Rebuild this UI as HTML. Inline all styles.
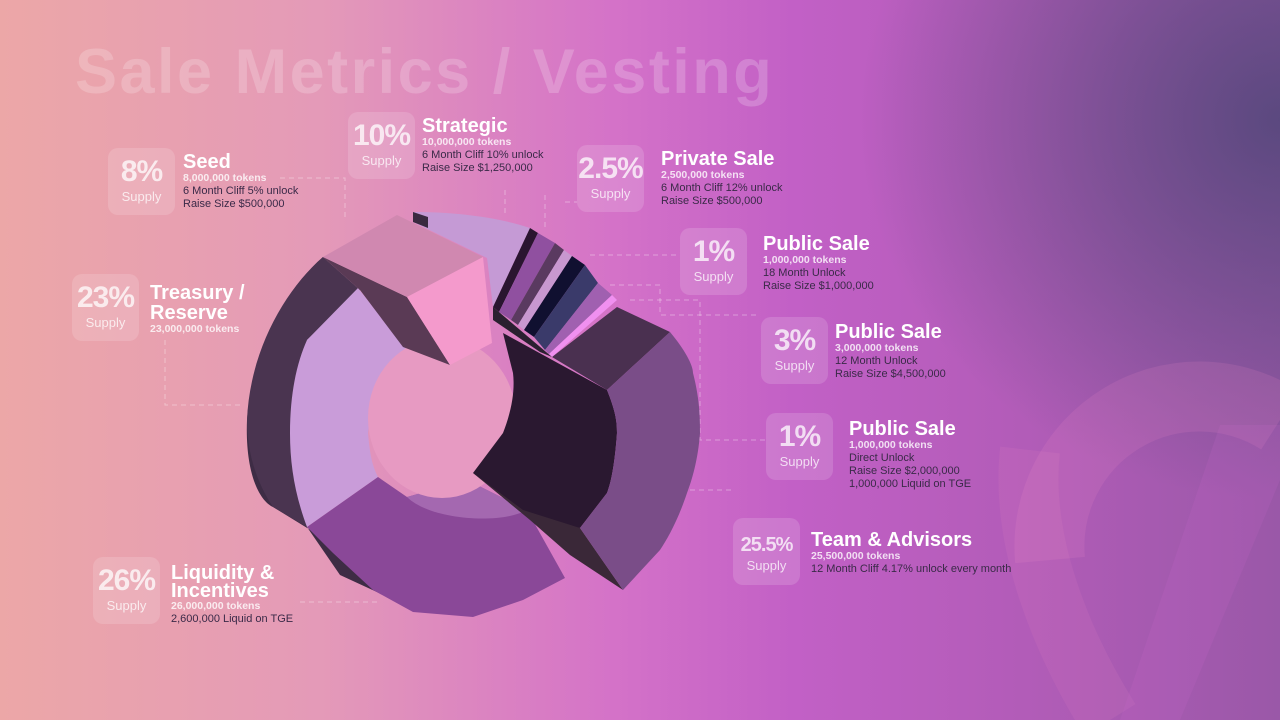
<!DOCTYPE html>
<html><head><meta charset="utf-8"><style>
html,body{margin:0;padding:0}
body{width:1280px;height:720px;position:relative;overflow:hidden;font-family:"Liberation Sans","DejaVu Sans",sans-serif;
background:radial-gradient(ellipse 420px 380px at 1280px 120px,rgba(80,70,120,0.85),rgba(80,70,120,0) 100%),linear-gradient(90deg,#eca7a7 0%,#e49ab8 25%,#d472c8 48%,#c260c6 62%,#b25cb8 80%,#9a58a8 100%);}
.title{position:absolute;left:75px;top:36px;font-size:63px;font-weight:bold;color:rgba(255,255,255,0.2);letter-spacing:2.5px}
.box{position:absolute;width:67px;height:67px;border-radius:10px;background:rgba(255,255,255,0.15);text-align:center;color:rgba(255,255,255,0.75)}
.box .p{font-size:30px;font-weight:bold;margin-top:9px;line-height:30px;letter-spacing:-1px}
.box .s{font-size:13px;margin-top:2px}
.lab{position:absolute;color:#3a2a48;font-size:11px;line-height:13px}
.lab .h{color:#fff;font-size:20px;font-weight:bold;line-height:20px}
.lab .t{color:rgba(255,255,255,0.8);font-weight:bold;font-size:10.5px}
</style></head><body>
<svg width="1280" height="720" style="position:absolute;left:0;top:0">
<path d="M1050,560 A150,150 0 0 1 1280,420" stroke="rgba(240,140,200,0.15)" stroke-width="70" fill="none"/>
<path d="M1030,450 C1020,540 1060,640 1110,720" stroke="rgba(240,140,200,0.12)" stroke-width="60" fill="none"/>
<path d="M1120,720 L1220,425 L1280,425 L1280,480 L1180,720Z" fill="rgba(210,110,210,0.15)"/>
<g stroke="rgba(255,255,255,0.35)" stroke-dasharray="5,4" fill="none" stroke-width="1">
<path d="M280,178 L345,178 L345,220"/><path d="M165,340 L165,405 L240,405"/><path d="M505,190 L505,215"/>
<path d="M545,195 L545,230 M565,202 L577,202"/><path d="M590,255 L680,255"/><path d="M610,285 L660,285 L660,315 L760,315"/>
<path d="M630,300 L700,300 L700,440 L766,440"/><path d="M690,490 L735,490"/><path d="M300,602 L380,602"/>
</g>
<path d="M323,257 C285,290 252,350 247,420 C245,470 258,500 273,507 L330,542 L393,595 L420,612 L340,575 L307,527 L290,433 L307,340Z" fill="#3e2c45"/>
<path d="M323,257 L360,290 L307,340 C295,370 290,400 290,433 L307,527 L273,507 C255,480 247,450 247,420 C250,350 285,290 323,257Z" fill="#4a3450"/>
<path d="M358,288 L407,350 C385,370 372,400 368,433 C370,455 372,465 378,477 L307,527 C295,495 290,465 290,433 C290,390 298,360 307,340Z" fill="#c99cd9"/>
<path d="M307,527 L378,477 L407,497 L467,480 L527,510 L565,578 L523,600 L473,617 L413,612 L373,590 L333,553Z" fill="#8a4898"/>
<path d="M407,497 C430,520 500,525 527,510 L467,480Z" fill="#a468b0"/>
<ellipse cx="442" cy="418" rx="74" ry="80" fill="#e79ac2"/>
<path d="M473,473 L580,528 L623,590 L570,555 L530,520Z" fill="#3a2838"/>
<path d="M503,333 L607,390 C615,410 617,420 617,433 C615,460 612,480 607,493 L580,528 L523,510 L473,473 L503,433 C512,410 515,390 513,373Z" fill="#2a1830"/>
<path d="M552,357 L617,307 L670,332 L607,390Z" fill="#4a3050"/>
<path d="M607,390 L670,332 C685,350 693,365 693,373 C700,400 700,420 700,433 C698,460 692,480 687,493 C678,520 668,538 660,550 L623,590 L580,528 L607,493 C612,480 615,460 617,433 C617,420 615,410 607,390Z" fill="#7a4d88"/>
<path d="M413,212 C460,212 500,218 530,228 L493,307 L487,258 L413,222Z" fill="#c59ad5"/>
<path d="M413,212 L428,217 L428,228 L413,222Z" fill="#3a2a40"/>
<path d="M530,228 L538,233 L499,312 L493,307Z" fill="#2a1530"/>
<path d="M538,233 L555,243 L511,320 L499,312Z" fill="#9050a0"/>
<path d="M555,243 L564,250 L518,325 L511,320Z" fill="#5a3a60"/>
<path d="M564,250 L572,256 L524,330 L518,325Z" fill="#c898d0"/>
<path d="M572,256 L585,265 L534,337 L524,330Z" fill="#101030"/>
<path d="M585,265 L598,283 L545,350 L534,337Z" fill="#3a3a6a"/>
<path d="M598,283 L612,295 L549,354 L545,350Z" fill="#a060b0"/>
<path d="M612,295 L617,300 L552,357 L549,354Z" fill="#f090f0"/>
<path d="M493,307 L552,357 L540,352 L493,320Z" fill="#2a2030"/>
<path d="M323,257 L407,297 L450,365 L403,347 L360,290Z" fill="#5a3a55"/>
<path d="M323,257 L397,215 L483,257 L407,297Z" fill="#d088b0"/>
<path d="M407,297 L483,257 L492,343 L450,365Z" fill="#f49acc"/>
</svg>
<div class="title">Sale Metrics / Vesting</div>

<div class="box" style="left:108px;top:148px"><div class="p">8%</div><div class="s">Supply</div></div>
<div class="lab" style="left:183px;top:152px"><div class="h">Seed</div><div class="t">8,000,000 tokens</div>6 Month Cliff 5% unlock<br>Raise Size $500,000</div>

<div class="box" style="left:348px;top:112px"><div class="p">10%</div><div class="s">Supply</div></div>
<div class="lab" style="left:422px;top:116px"><div class="h">Strategic</div><div class="t">10,000,000 tokens</div>6 Month Cliff 10% unlock<br>Raise Size $1,250,000</div>

<div class="box" style="left:577px;top:145px"><div class="p">2.5%</div><div class="s">Supply</div></div>
<div class="lab" style="left:661px;top:149px"><div class="h">Private Sale</div><div class="t">2,500,000 tokens</div>6 Month Cliff 12% unlock<br>Raise Size $500,000</div>

<div class="box" style="left:680px;top:228px"><div class="p">1%</div><div class="s">Supply</div></div>
<div class="lab" style="left:763px;top:234px"><div class="h">Public Sale</div><div class="t">1,000,000 tokens</div>18 Month Unlock<br>Raise Size $1,000,000</div>

<div class="box" style="left:761px;top:317px"><div class="p">3%</div><div class="s">Supply</div></div>
<div class="lab" style="left:835px;top:322px"><div class="h">Public Sale</div><div class="t">3,000,000 tokens</div>12 Month Unlock<br>Raise Size $4,500,000</div>

<div class="box" style="left:766px;top:413px"><div class="p">1%</div><div class="s">Supply</div></div>
<div class="lab" style="left:849px;top:419px"><div class="h">Public Sale</div><div class="t">1,000,000 tokens</div>Direct Unlock<br>Raise Size $2,000,000<br>1,000,000 Liquid on TGE</div>

<div class="box" style="left:733px;top:518px"><div class="p" style="font-size:20px;margin-top:16px;line-height:22px">25.5%</div><div class="s">Supply</div></div>
<div class="lab" style="left:811px;top:530px"><div class="h">Team &amp; Advisors</div><div class="t">25,500,000 tokens</div>12 Month Cliff 4.17% unlock every month</div>

<div class="box" style="left:72px;top:274px"><div class="p">23%</div><div class="s">Supply</div></div>
<div class="lab" style="left:150px;top:283px"><div class="h">Treasury /<br>Reserve</div><div class="t">23,000,000 tokens</div></div>

<div class="box" style="left:93px;top:557px"><div class="p">26%</div><div class="s">Supply</div></div>
<div class="lab" style="left:171px;top:564px"><div class="h" style="line-height:18px">Liquidity &amp;<br>Incentives</div><div class="t">26,000,000 tokens</div>2,600,000 Liquid on TGE</div>
</body></html>
